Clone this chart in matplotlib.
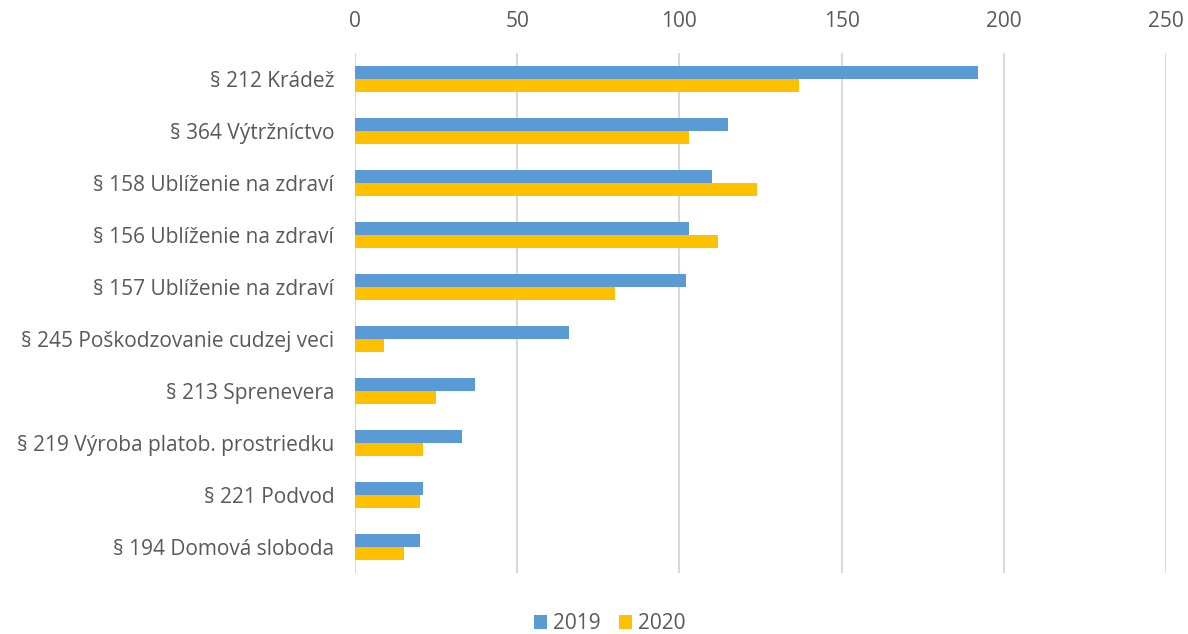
import numpy as np
import matplotlib.pyplot as plt

categories = [
    "§ 212 Krádež",
    "§ 364 Výtržníctvo",
    "§ 158 Ublíženie na zdraví",
    "§ 156 Ublíženie na zdraví",
    "§ 157 Ublíženie na zdraví",
    "§ 245 Poškodzovanie cudzej veci",
    "§ 213 Sprenevera",
    "§ 219 Výroba platob. prostriedku",
    "§ 221 Podvod",
    "§ 194 Domová sloboda",
]
values_2019 = [192, 115, 110, 103, 102, 66, 37, 33, 21, 20]
values_2020 = [137, 103, 124, 112, 80, 9, 25, 21, 20, 15]
series_names = ["2019", "2020"]
x_ticks = [0, 50, 100, 150, 200, 250]

plt.rcParams['font.family'] = ['Open Sans', 'DejaVu Sans']
text_color = "#595959"
fs = 15

fig = plt.figure(figsize=(11.88, 6.34), dpi=100)
ax = fig.add_axes([0.2988, 0.0962, 0.6827, 0.8202])

y = np.arange(len(categories))
h = 0.25
ax.barh(y - h / 2, values_2019, height=h, color="#5B9BD5", label=series_names[0], zorder=3)
ax.barh(y + h / 2, values_2020, height=h, color="#FFC000", label=series_names[1], zorder=3)

ax.set_ylim(len(categories) - 0.5, -0.5)
ax.set_yticks(y)
ax.set_yticklabels(categories, fontsize=fs, color=text_color)

ax.set_xlim(0, 250)
ax.set_xticks(x_ticks)
ax.xaxis.tick_top()
ax.tick_params(axis='x', labelsize=fs, colors=text_color, length=0, pad=15)
ax.tick_params(axis='y', length=0, pad=15)
ax.grid(axis='x', color="#d9d9d9", linewidth=1.5, zorder=0)
for s in ax.spines.values():
    s.set_visible(False)

fig.legend(*ax.get_legend_handles_labels(), loc='center', bbox_to_anchor=(0.513, 0.016),
           ncol=2, frameon=False, fontsize=fs, labelcolor=text_color,
           handlelength=0.65, handleheight=0.65, handletextpad=0.25, columnspacing=0.9,
           borderpad=0)

fig.savefig("out.png", dpi=100)
